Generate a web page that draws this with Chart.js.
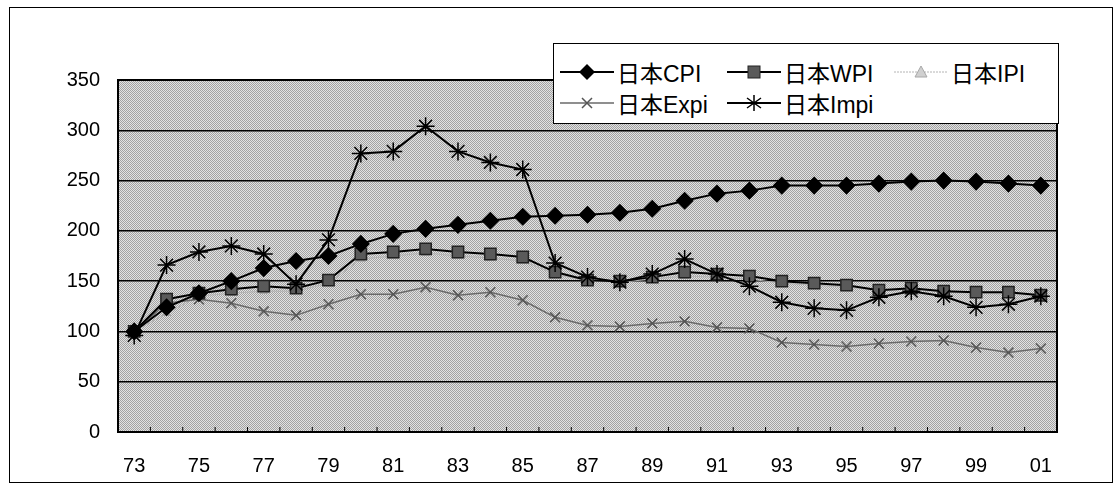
<!DOCTYPE html>
<html>
<head>
<meta charset="utf-8">
<script src="https://cdn.jsdelivr.net/npm/chart.js@4/dist/chart.umd.min.js"></script>
<style>
  body { margin: 0; background: #fff; }
  #wrap { position: relative; width: 1117px; height: 488px; }
  #frame { position: absolute; left: 9px; top: 7px; width: 1104px; height: 476px; border: 1.5px solid #000; box-sizing: border-box; pointer-events: none; }
  #legend {
    position: absolute; left: 553px; top: 43px; width: 506px; height: 81px;
    background: #fff; border: 1.5px solid #000; box-sizing: border-box;
    font-family: "Liberation Sans", "Noto Sans CJK JP", sans-serif; font-size: 23px; color: #000;
  }
  .item { position: absolute; display: flex; align-items: center; height: 30px; white-space: nowrap; }
  .item svg { margin-right: 3px; }
</style>
</head>
<body>
<div id="wrap">
  <canvas id="c" width="1117" height="488"></canvas>
  <div id="frame"></div>
  <div id="legend"></div>
</div>
<script>
// years 1973 - 2001
const years = ["73","74","75","76","77","78","79","80","81","82","83","84","85","86","87",
               "88","89","90","91","92","93","94","95","96","97","98","99","00","01"];

const seriesNames = ["日本CPI", "日本WPI", "日本IPI", "日本Expi", "日本Impi"];

const cpi  = [100,124,138,150,163,170,175,187,197,202,206,210,214,215,216,218,222,230,237,240,245,245,245,247,249,250,249,247,245];
const wpi  = [100,132,138,142,145,143,151,177,179,182,179,177,174,159,151,150,154,159,157,155,150,148,146,141,143,140,139,139,136];
const ipi  = [100,118,135,138,140,140,148,172,175,178,175,173,170,157,150,149,152,155,154,152,148,146,144,141,142,139,138,137,136];
const expi = [100,128,132,128,120,116,127,137,137,144,136,139,131,114,106,105,108,110,104,103,89,87,85,88,90,91,84,79,83];
const impi = [96,166,179,185,177,147,191,277,279,304,279,268,261,168,154,149,157,172,157,145,129,123,121,134,140,135,124,127,135];

const yTicks = [0, 50, 100, 150, 200, 250, 300, 350];

// line / marker style for each series (order: higher is drawn further back)
const styles = [
    { color: "#000", width: 2,   point: "rectRot",  radius: 8, fill: "#000",    border: "#000", order: 3 },
    { color: "#000", width: 2,   point: "rect",     radius: 8, fill: "#5a5a5a", border: "#222", order: 4 },
    { color: "#b4b4b4", width: 1, point: "triangle", radius: 4, fill: "#d0d0d0", border: "#a8a8a8", order: 6 },
    { color: "#6a6a6a", width: 1.5, point: "crossRot", radius: 7, fill: "#555", border: "#555", order: 5 },
    { color: "#000", width: 2,   point: "star",     radius: 9, fill: "#000",    border: "#000", order: 1 }
];
const values = [cpi, wpi, ipi, expi, impi];

// dithered grey background like the printed chart
function makePattern(ctx) {
    const t = document.createElement("canvas");
    t.width = 2; t.height = 2;
    const g = t.getContext("2d");
    g.fillStyle = "#e2e2e2"; g.fillRect(0, 0, 2, 2);
    g.fillStyle = "#a2a2a2"; g.fillRect(0, 0, 1, 1); g.fillRect(1, 1, 1, 1);
    return ctx.createPattern(t, "repeat");
}

const plotBg = {
    id: "plotBg",
    beforeDraw(chart) {
        const { ctx, chartArea: a } = chart;
        ctx.save();
        ctx.fillStyle = makePattern(ctx);
        ctx.fillRect(a.left, a.top, a.right - a.left, a.bottom - a.top);
        ctx.restore();
    },
    afterDatasetsDraw(chart) {
        const { ctx, chartArea: a } = chart;
        ctx.save();
        ctx.strokeStyle = "#000";
        ctx.lineWidth = 2;
        ctx.strokeRect(a.left, a.top, a.right - a.left, a.bottom - a.top);
        // small inward tick marks on the category axis
        const x = chart.scales.x;
        ctx.lineWidth = 1;
        for (let i = 0; i <= years.length; i++) {
            const px = x.left + (x.right - x.left) * i / years.length;
            ctx.beginPath();
            ctx.moveTo(px, a.bottom);
            ctx.lineTo(px, a.bottom - 5);
            ctx.stroke();
        }
        ctx.restore();
    }
};

new Chart(document.getElementById("c"), {
    type: "line",
    data: {
        labels: years,
        datasets: seriesNames.map((name, i) => ({
            label: name,
            data: values[i],
            borderColor: styles[i].color,
            borderWidth: styles[i].width,
            pointStyle: styles[i].point,
            pointRadius: styles[i].radius,
            pointBackgroundColor: styles[i].fill,
            pointBorderColor: styles[i].border,
            pointBorderWidth: 1.5,
            tension: 0,
            order: styles[i].order
        }))
    },
    options: {
        responsive: false,
        animation: false,
        layout: { padding: { top: 80, right: 60, bottom: 0, left: 0 } },
        scales: {
            x: {
                offset: true,
                grid: { display: false },
                border: { display: false },
                ticks: {
                    autoSkip: false,
                    maxRotation: 0,
                    color: "#000",
                    padding: 14,
                    font: { family: "Liberation Sans", size: 20 },
                    callback: (v, i) => (i % 2 === 0 ? years[i] : "")
                },
                afterFit: s => { s.height = 56; }
            },
            y: {
                min: 0,
                max: 350,
                afterBuildTicks: s => { s.ticks = yTicks.map(v => ({ value: v })); },
                grid: { color: "#000", lineWidth: 1.5, drawTicks: false },
                border: { display: false },
                ticks: {
                    color: "#000",
                    padding: 18,
                    font: { family: "Liberation Sans", size: 20 }
                },
                afterFit: s => { s.width = 118; }
            }
        },
        plugins: {
            legend: { display: false },
            tooltip: { enabled: false }
        }
    },
    plugins: [plotBg]
});

// legend drawn as html, samples drawn with small svgs
function markerSvg(st) {
    let m = "";
    const cx = 27, cy = 10;
    if (st.point === "rectRot") m = `<polygon points="${cx},${cy-8} ${cx+8},${cy} ${cx},${cy+8} ${cx-8},${cy}" fill="${st.fill}"/>`;
    if (st.point === "rect") m = `<rect x="${cx-6}" y="${cy-6}" width="12" height="12" fill="${st.fill}" stroke="${st.border}"/>`;
    if (st.point === "triangle") m = `<polygon points="${cx},${cy-6} ${cx+6},${cy+5} ${cx-6},${cy+5}" fill="${st.fill}" stroke="${st.border}"/>`;
    if (st.point === "crossRot") m = `<path d="M${cx-5} ${cy-5}L${cx+5} ${cy+5}M${cx+5} ${cy-5}L${cx-5} ${cy+5}" stroke="${st.border}" stroke-width="1.5"/>`;
    if (st.point === "star") m = `<path d="M${cx} ${cy-8}V${cy+8}M${cx-7} ${cy-5}L${cx+7} ${cy+5}M${cx+7} ${cy-5}L${cx-7} ${cy+5}" stroke="#000" stroke-width="1.5"/>`;
    const dash = st.point === "triangle" ? ' stroke-dasharray="2 1"' : "";
    return `<svg width="54" height="20"><line x1="0" y1="${cy}" x2="54" y2="${cy}" stroke="${st.color}" stroke-width="${st.width}"${dash}/>${m}</svg>`;
}

const legendPos = [[6, 13], [173, 13], [340, 13], [6, 44], [173, 44]];
const legend = document.getElementById("legend");
seriesNames.forEach((name, i) => {
    const d = document.createElement("div");
    d.className = "item";
    d.style.left = legendPos[i][0] + "px";
    d.style.top = legendPos[i][1] + "px";
    d.innerHTML = markerSvg(styles[i]) + `<span>${name}</span>`;
    legend.appendChild(d);
});
</script>
</body>
</html>
